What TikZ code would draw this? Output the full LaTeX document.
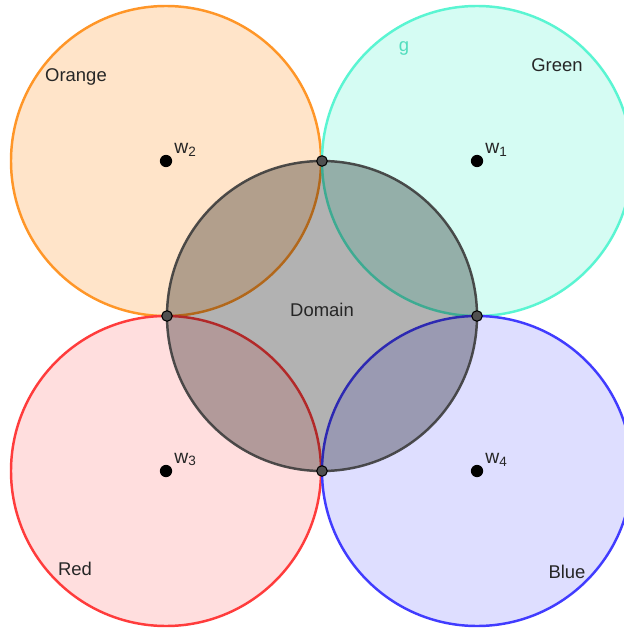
\documentclass[tikz,border=0pt]{standalone}
\usepackage{fontspec}
\setmainfont{Liberation Sans}
\usetikzlibrary{positioning}
\definecolor{orng}{RGB}{255,150,40}
\definecolor{grn}{RGB}{90,245,210}
\definecolor{rd}{RGB}{255,60,60}
\definecolor{bl}{RGB}{65,60,255}
\definecolor{dom}{RGB}{60,60,60}
\tikzset{
	disc/.style={line width=1.4pt,fill opacity=0.25},
	domdisc/.style={line width=1.4pt,draw=dom,draw opacity=0.9,fill=black,fill opacity=0.3},
	wdot/.style={circle,fill=black,inner sep=0pt,minimum size=7pt},
	ipt/.style={circle,draw=black,fill=dom!90,line width=0.6pt,inner sep=0pt,minimum size=6pt},
	lbl/.style={font=\fontsize{10.5}{12}\selectfont,text=black!85,inner sep=1pt},
	wlbl/.style={lbl,font=\fontsize{11}{12}\selectfont}
}
\begin{document}
\begin{tikzpicture}[x=0.02cm,y=-0.02cm]
\useasboundingbox (0,0) rectangle (624,628);
\clip (0,0) rectangle (624,628);
\fill[white] (0,0) rectangle (624,628);

% the four weight circles
\draw[disc,draw=orng,fill=orng] (166,161) circle (155);
\draw[disc,draw=grn,fill=grn] (477,161) circle (155);
\draw[disc,draw=rd,fill=rd,fill opacity=0.17] (166,471) circle (155);
\draw[disc,draw=bl,fill=bl,fill opacity=0.17] (477,471) circle (155);

% domain
\draw[domdisc] (322,316) circle (155);

\node[wdot] (p1) at (477,161) {};
\node[wdot] (p2) at (166,161) {};
\node[wdot] (p3) at (166,471) {};
\node[wdot] (p4) at (477,471) {};

\node[ipt] (top) at (322,161) {};
\node[ipt] (lft) at (167,316) {};
\node[ipt] (rgt) at (477,316) {};
\node[ipt] (bot) at (322,471) {};

\node[wlbl,above right=-1pt and 1pt of p1] (w1) {w\textsubscript{1}};
\node[wlbl,above right=-1pt and 1pt of p2] (w2) {w\textsubscript{2}};
\node[wlbl,above right=-1pt and 1pt of p3] (w3) {w\textsubscript{3}};
\node[wlbl,above right=-1pt and 1pt of p4] (w4) {w\textsubscript{4}};

\node[lbl] (orange) at (76,77) {Orange};
\node[lbl] (green) at (557,65) {Green};
\node[lbl] (red) at (75,569) {Red};
\node[lbl] (blue) at (567,572) {Blue};
\node[lbl] (domain) at (322,310) {Domain};
\node[lbl,text=grn!90!black] (g) at (404,48) {g};

\end{tikzpicture}
\end{document}
